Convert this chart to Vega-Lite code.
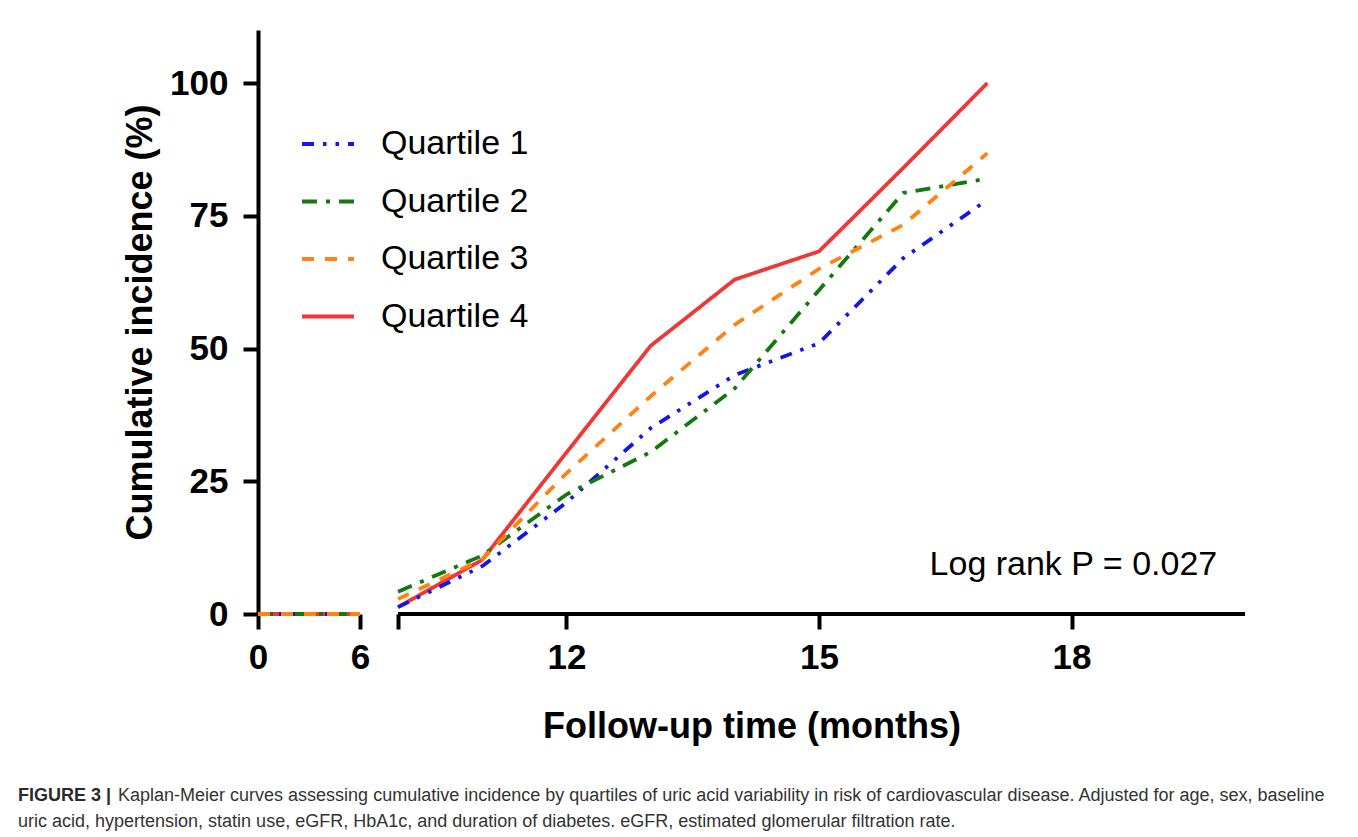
{
  "$schema": "https://vega.github.io/schema/vega-lite/v6.json",
  "autosize": "none",
  "width": 987,
  "height": 584,
  "padding": {"left": 258, "top": 30, "right": 113, "bottom": 223},
  "background": "white",
  "config": {"view": {"stroke": null}, "font": "Liberation Sans"},
  "title": {
    "text": "FIGURE 3 |",
    "subtitle": [
      "\u200b\u00a0\u00a0\u00a0\u00a0\u00a0\u00a0\u00a0\u00a0\u00a0\u00a0\u00a0\u00a0\u00a0\u00a0\u00a0\u00a0\u00a0\u00a0\u00a0\u00a0Kaplan-Meier curves assessing cumulative incidence by quartiles of uric acid variability in risk of cardiovascular disease. Adjusted for age, sex, baseline",
      "uric acid, hypertension, statin use, eGFR, HbA1c, and duration of diabetes. eGFR, estimated glomerular filtration rate."
    ],
    "orient": "bottom",
    "anchor": "start",
    "frame": "group",
    "dx": -240,
    "offset": 43,
    "font": "Liberation Sans",
    "fontSize": 18,
    "fontWeight": "bold",
    "color": "#2a2a2a",
    "subtitleFont": "Liberation Sans",
    "subtitleFontSize": 18,
    "subtitleColor": "#333333",
    "subtitleLineHeight": 25.5,
    "subtitlePadding": -18
  },
  "datasets": {
    "curves": [
      {"group": "Quartile 4", "part": "a", "month": 0, "pct": 0},
      {"group": "Quartile 4", "part": "a", "month": 6, "pct": 0},
      {"group": "Quartile 4", "part": "b", "month": 10, "pct": 1.3},
      {"group": "Quartile 4", "part": "b", "month": 11, "pct": 10.2},
      {"group": "Quartile 4", "part": "b", "month": 12, "pct": 30.4},
      {"group": "Quartile 4", "part": "b", "month": 13, "pct": 50.5},
      {"group": "Quartile 4", "part": "b", "month": 14, "pct": 63},
      {"group": "Quartile 4", "part": "b", "month": 15, "pct": 68.3},
      {"group": "Quartile 4", "part": "b", "month": 16, "pct": 84},
      {"group": "Quartile 4", "part": "b", "month": 17, "pct": 100},
      {"group": "Quartile 1", "part": "a", "month": 0, "pct": 0},
      {"group": "Quartile 1", "part": "a", "month": 6, "pct": 0},
      {"group": "Quartile 1", "part": "b", "month": 10, "pct": 1.3},
      {"group": "Quartile 1", "part": "b", "month": 11, "pct": 9},
      {"group": "Quartile 1", "part": "b", "month": 12, "pct": 21},
      {"group": "Quartile 1", "part": "b", "month": 13, "pct": 35},
      {"group": "Quartile 1", "part": "b", "month": 14, "pct": 45},
      {"group": "Quartile 1", "part": "b", "month": 15, "pct": 51},
      {"group": "Quartile 1", "part": "b", "month": 16, "pct": 67},
      {"group": "Quartile 1", "part": "b", "month": 17, "pct": 78},
      {"group": "Quartile 2", "part": "a", "month": 0, "pct": 0},
      {"group": "Quartile 2", "part": "a", "month": 6, "pct": 0},
      {"group": "Quartile 2", "part": "b", "month": 10, "pct": 4.2},
      {"group": "Quartile 2", "part": "b", "month": 11, "pct": 11},
      {"group": "Quartile 2", "part": "b", "month": 12, "pct": 22.5},
      {"group": "Quartile 2", "part": "b", "month": 13, "pct": 30.5},
      {"group": "Quartile 2", "part": "b", "month": 14, "pct": 42.5},
      {"group": "Quartile 2", "part": "b", "month": 15, "pct": 61},
      {"group": "Quartile 2", "part": "b", "month": 16, "pct": 79.3},
      {"group": "Quartile 2", "part": "b", "month": 17, "pct": 82},
      {"group": "Quartile 3", "part": "a", "month": 0, "pct": 0},
      {"group": "Quartile 3", "part": "a", "month": 6, "pct": 0},
      {"group": "Quartile 3", "part": "b", "month": 10, "pct": 2.8},
      {"group": "Quartile 3", "part": "b", "month": 11, "pct": 10.3},
      {"group": "Quartile 3", "part": "b", "month": 12, "pct": 26.5},
      {"group": "Quartile 3", "part": "b", "month": 13, "pct": 41},
      {"group": "Quartile 3", "part": "b", "month": 14, "pct": 54.5},
      {"group": "Quartile 3", "part": "b", "month": 15, "pct": 65},
      {"group": "Quartile 3", "part": "b", "month": 16, "pct": 73.3},
      {"group": "Quartile 3", "part": "b", "month": 17, "pct": 86.8}
    ],
    "axisSegments": [
      {"from": 0, "to": 6},
      {"from": 10, "to": 20.06}
    ],
    "notes": [
      {"note": "Log rank P = 0.027", "month": 19.73, "pct": 9.3}
    ]
  },
  "layer": [
    {
      "data": {"name": "axisSegments"},
      "mark": {"type": "rule", "color": "black", "strokeWidth": 4},
      "encoding": {
        "x": {"field": "from", "type": "quantitative", "title": "Follow-up time (months)"},
        "x2": {"field": "to"},
        "y": {"datum": 0, "type": "quantitative", "title": "Cumulative incidence (%)"}
      }
    },
    {
      "data": {"name": "curves"},
      "mark": {"type": "line", "strokeWidth": 3.8, "clip": false},
      "encoding": {
        "x": {
          "field": "month",
          "type": "quantitative",
          "title": "Follow-up time (months)",
          "scale": {"domain": [0, 6, 10, 20.06], "range": [0, 102, 140, 987], "nice": false, "zero": false},
          "axis": {
            "values": [0, 6, 10, 12, 15, 18],
            "labelExpr": "datum.value == 10 ? '' : datum.label",
            "domain": false,
            "grid": false,
            "ticks": true,
            "tickSize": 15,
            "tickWidth": 4,
            "tickColor": "black",
            "labelFont": "Liberation Sans",
            "labelFontSize": 35,
            "labelFontWeight": "bold",
            "labelColor": "black",
            "labelPadding": 11,
            "labelFlush": false,
            "labelOverlap": false,
            "titleFont": "Liberation Sans",
            "titleFontSize": 36,
            "titleFontWeight": "bold",
            "titleColor": "black",
            "titlePadding": 34
          }
        },
        "y": {
          "field": "pct",
          "type": "quantitative",
          "title": "Cumulative incidence (%)",
          "scale": {"domain": [0, 110], "nice": false},
          "axis": {
            "values": [0, 25, 50, 75, 100],
            "domain": true,
            "domainWidth": 4,
            "domainColor": "black",
            "grid": false,
            "tickSize": 15,
            "tickWidth": 4,
            "tickColor": "black",
            "labelFont": "Liberation Sans",
            "labelFontSize": 35,
            "labelFontWeight": "bold",
            "labelColor": "black",
            "labelPadding": 15,
            "titleFont": "Liberation Sans",
            "titleFontSize": 36,
            "titleFontWeight": "bold",
            "titleColor": "black",
            "titlePadding": 10
          }
        },
        "color": {
          "field": "group",
          "type": "nominal",
          "scale": {
            "domain": ["Quartile 1", "Quartile 2", "Quartile 3", "Quartile 4"],
            "range": ["#1414f0", "#14780f", "#ff8214", "#f03737"]
          },
          "legend": {
            "orient": "none",
            "legendX": 42,
            "legendY": 86,
            "title": null,
            "symbolType": "stroke",
            "symbolSize": 2704,
            "symbolStrokeWidth": 4,
            "labelFont": "Liberation Sans",
            "labelFontSize": 34,
            "labelColor": "black",
            "labelOffset": 25,
            "rowPadding": 12.5
          }
        },
        "strokeDash": {
          "field": "group",
          "type": "nominal",
          "scale": {
            "domain": ["Quartile 1", "Quartile 2", "Quartile 3", "Quartile 4"],
            "range": [[12, 9, 3.5, 9, 3.5, 9], [15, 9, 4, 9], [12, 11], [1, 0]]
          },
          "legend": {
            "orient": "none",
            "legendX": 42,
            "legendY": 86,
            "title": null,
            "symbolType": "stroke",
            "symbolSize": 2704,
            "symbolStrokeWidth": 4,
            "labelFont": "Liberation Sans",
            "labelFontSize": 34,
            "labelColor": "black",
            "labelOffset": 25,
            "rowPadding": 12.5
          }
        },
        "detail": {"field": "part", "type": "nominal"}
      }
    },
    {
      "data": {"name": "notes"},
      "mark": {"type": "text", "align": "right", "baseline": "middle", "fontSize": 34, "font": "Liberation Sans", "color": "black"},
      "encoding": {
        "x": {"field": "month", "type": "quantitative", "title": "Follow-up time (months)"},
        "y": {"field": "pct", "type": "quantitative", "title": "Cumulative incidence (%)"},
        "text": {"field": "note"}
      }
    }
  ]
}
